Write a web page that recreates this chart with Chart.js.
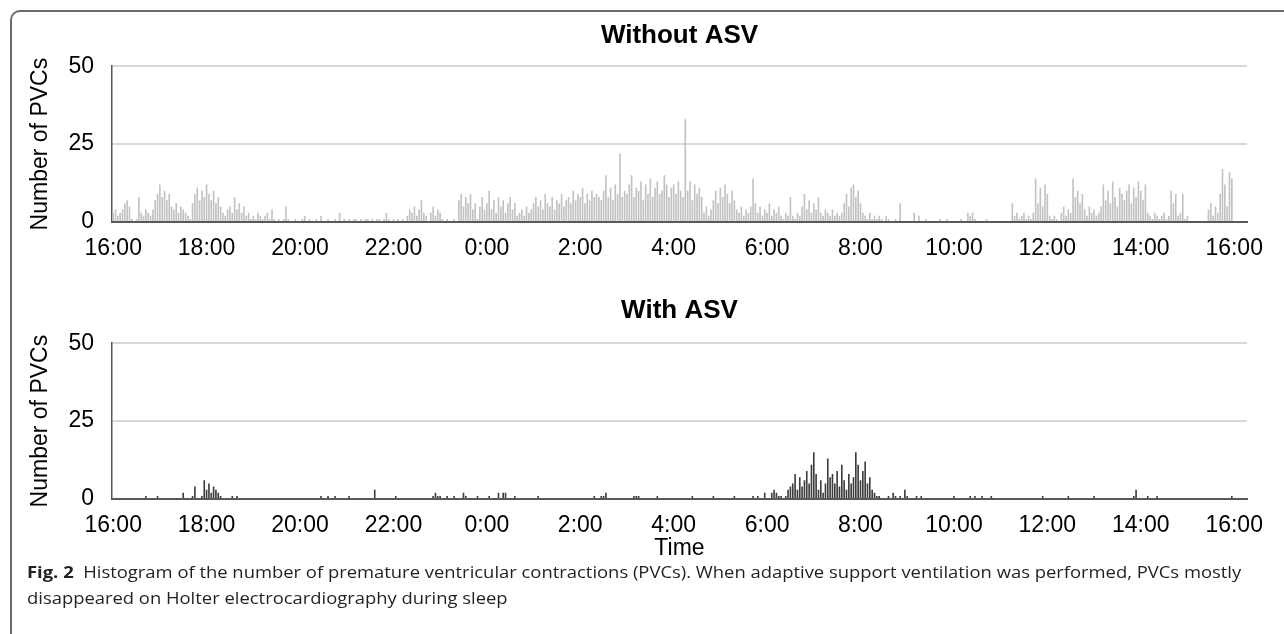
<!DOCTYPE html>
<html>
<head>
<meta charset="utf-8">
<title>PVC histogram</title>
<script src="https://cdn.jsdelivr.net/npm/chart.js@4.4.1/dist/chart.umd.min.js"></script>
<style>
  html, body { margin: 0; padding: 0; background: #fff; width: 1284px; height: 634px; overflow: hidden; }
  #frame { position: absolute; left: 10px; top: 10px; width: 1320px; height: 700px;
           border-top: 2px solid #6b6b6b; border-left: 2px solid #6b6b6b; border-top-left-radius: 10px; }
  .box { position: absolute; left: 0; width: 1284px; }
  #box1 { top: 0; height: 262px; }
  #box2 { top: 262px; height: 300px; }
  #caption { position: absolute; left: 27px; top: 559px; font-family: 'Open Sans', sans-serif;
             font-size: 16px; line-height: 26px; color: #231f20; white-space: nowrap;
             transform: scaleX(1.15); transform-origin: 0 0; }
</style>
</head>
<body>
<div id="frame"></div>
<div class="box" id="box1"><canvas id="chartTop" width="1284" height="262"></canvas></div>
<div class="box" id="box2"><canvas id="chartBottom" width="1284" height="300"></canvas></div>
<div id="caption"><b>Fig. 2</b>&nbsp; Histogram of the number of premature ventricular contractions (PVCs). When adaptive support ventilation was performed, PVCs mostly<br>disappeared on Holter electrocardiography during sleep</div>

<script>
// PVC counts per 3-minute bin, starting at 16:00 (one row = one hour)
const withoutAsv = [
  3,4,2,3,4,6,7,5,1,0,1,8,3,2,4,3,2,4,7,9,
  12,8,10,7,9,5,4,6,3,5,4,3,2,1,6,9,11,7,10,8,
  12,9,7,10,6,8,5,3,2,4,5,3,8,4,6,3,5,2,3,1,
  2,1,3,2,1,2,3,1,4,1,0,1,0,1,5,1,0,0,1,0,
  0,1,2,0,1,0,0,1,0,2,0,0,1,0,0,1,0,3,0,1,
  0,1,0,1,1,0,1,0,1,1,0,1,0,1,1,0,1,3,1,0,
  1,0,1,0,1,0,2,4,3,5,2,4,7,3,2,0,3,5,2,4,
  3,1,0,1,0,0,1,0,7,9,5,8,6,9,4,6,1,5,8,4,
  6,10,4,7,3,8,5,7,3,6,8,4,6,2,3,4,2,5,3,4,
  6,8,5,7,4,9,6,5,8,4,7,6,9,5,7,8,6,10,7,9,
  8,11,6,9,7,10,8,9,8,7,10,15,8,11,7,12,9,22,8,10,
  9,12,15,8,11,10,13,7,12,9,14,8,11,13,9,10,15,12,8,11,
  12,9,13,10,8,33,10,13,7,12,9,11,8,3,5,2,4,7,10,6,
  11,8,12,9,6,10,7,4,3,5,2,4,3,5,14,6,3,5,2,4,
  3,6,2,4,3,5,2,1,3,2,8,2,1,3,2,5,9,4,7,3,
  6,4,8,3,2,4,3,2,4,2,3,2,3,6,9,5,11,12,8,10,
  6,3,2,1,3,1,2,1,2,1,0,2,1,0,0,1,0,6,0,0,
  0,0,0,3,0,2,0,0,1,0,0,0,0,0,1,0,0,1,0,0,
  0,0,0,1,0,0,3,2,3,1,0,0,0,0,1,0,0,0,0,0,
  0,0,0,0,0,6,2,3,1,2,3,1,2,1,3,14,6,11,5,12,
  9,2,1,2,1,0,3,5,2,4,3,14,8,10,6,9,4,2,5,3,
  4,2,3,5,12,7,10,6,13,8,5,11,9,7,10,12,6,11,8,13,
  10,7,12,3,2,1,3,2,1,2,3,1,2,10,6,9,2,3,9,1,
  2,0,0,0,0,0,0,0,0,4,6,2,5,3,9,17,12,5,16,14,
  0,0,0,0,0,0
];

const withAsv = [
  0,0,0,0,0,0,0,0,0,0,0,0,0,0,1,0,0,0,0,1,
  0,0,0,0,0,0,0,0,0,0,2,0,0,0,1,4,0,0,1,6,
  3,5,2,4,3,2,1,0,0,0,0,1,0,1,0,0,0,0,0,0,
  0,0,0,0,0,0,0,0,0,0,0,0,0,0,0,0,0,0,0,0,
  0,0,0,0,0,0,0,0,0,1,0,0,1,0,0,1,0,0,0,0,
  0,1,0,0,0,0,0,0,0,0,0,0,3,0,0,0,0,0,0,0,
  0,1,0,0,0,0,0,0,0,0,0,0,0,0,0,0,0,1,2,1,
  1,0,0,1,0,0,1,0,0,0,2,1,0,0,0,0,1,0,0,0,
  0,1,0,0,0,2,0,2,2,0,0,0,1,0,0,0,0,0,0,0,
  0,0,1,0,0,0,0,0,0,0,0,0,0,0,0,0,0,0,0,0,
  0,0,0,0,0,0,1,0,0,1,1,2,0,0,0,0,0,0,0,0,
  0,0,0,1,1,1,0,0,0,0,0,0,0,1,0,0,0,0,0,0,
  0,0,0,0,0,0,0,0,1,0,0,0,0,0,0,0,0,1,0,0,
  0,0,0,0,0,0,1,0,0,0,0,0,0,0,1,0,1,0,0,2,
  0,0,2,3,2,1,1,0,1,3,4,5,8,3,7,4,6,9,5,11,
  15,8,3,6,2,5,13,7,8,5,9,4,11,6,3,8,5,7,15,11,
  6,9,12,5,7,3,2,1,1,0,0,0,1,0,2,1,0,1,0,3,
  1,0,0,0,1,0,1,0,0,0,0,0,0,0,0,0,0,0,0,0,
  1,0,0,0,0,0,0,1,0,1,0,0,1,0,0,0,1,0,0,0,
  0,0,0,0,0,0,0,0,0,0,0,0,0,0,0,0,0,0,1,0,
  0,0,0,0,0,0,0,0,0,1,0,0,0,0,0,0,0,0,0,0,
  1,0,0,0,0,0,0,0,0,0,0,0,0,0,0,0,0,1,3,0,
  0,0,0,1,0,0,0,1,0,0,0,0,0,0,0,0,0,0,0,0,
  0,0,0,0,0,0,0,0,0,0,0,0,0,0,0,0,0,0,0,1,
  0,0,0,0,0,0
];

const hourTicks = ['16:00','18:00','20:00','22:00','0:00','2:00','4:00','6:00','8:00','10:00','12:00','14:00','16:00'];
const BINS_PER_TICK = 40; // 40 bins x 3 min = 2 h

const binLabels = withoutAsv.map((v, i) => i % BINS_PER_TICK === 0 ? (hourTicks[i / BINS_PER_TICK] || '') : '');

const FONT = "'Liberation Sans', Arial, sans-serif";
const AXIS_COLOR = '#595959';

function makeChart(id, titleText, values, barColor, titlePad, xAxisHeight, showTime) {
  const ctx = document.getElementById(id);
  return new Chart(ctx.getContext('2d'), {
    type: 'bar',
    data: {
      labels: binLabels,
      datasets: [{ data: values, backgroundColor: barColor, barPercentage: 0.7, categoryPercentage: 1 }]
    },
    options: {
      responsive: false,
      animation: false,
      devicePixelRatio: 1,
      layout: { padding: { left: 0, right: 37, top: 0, bottom: 0 } },
      plugins: {
        legend: { display: false },
        tooltip: { enabled: false },
        title: {
          display: true, text: titleText, fullSize: false, color: '#000',
          font: { family: FONT, size: 26, weight: 'bold' },
          padding: titlePad
        }
      },
      scales: {
        x: {
          grid: { display: false, drawTicks: false },
          border: { display: true, color: AXIS_COLOR, width: 2 },
          ticks: { autoSkip: false, maxRotation: 0, minRotation: 0, padding: 13, color: '#000',
                   font: { family: FONT, size: 23 } },
          title: { display: showTime, text: 'Time', color: '#000', font: { family: FONT, size: 23 },
                   padding: { top: 0, bottom: 0 } },
          afterFit: s => { s.height = xAxisHeight; }
        },
        y: {
          min: 0, max: 50,
          grid: { color: '#d9d9d9', lineWidth: 2, drawTicks: false },
          border: { display: true, color: AXIS_COLOR, width: 1.5 },
          ticks: { stepSize: 25, padding: 18, color: '#000', font: { family: FONT, size: 23 } },
          title: { display: true, text: 'Number of PVCs', color: '#000', font: { family: FONT, size: 23 },
                   padding: { top: 27, bottom: 0 } },
          afterFit: s => { s.width = 112; }
        }
      }
    }
  });
}

makeChart('chartTop', 'Without ASV', withoutAsv, '#c2c2c2', { top: 20, bottom: 15 }, 40, false);
makeChart('chartBottom', 'With ASV', withAsv, '#3d3d3d', { top: 33, bottom: 17 }, 63, true);
</script>
</body>
</html>
